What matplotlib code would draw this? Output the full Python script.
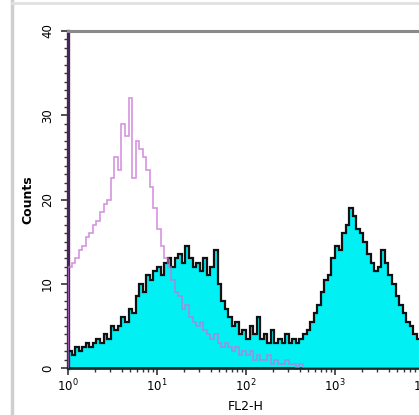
import numpy as np
import matplotlib.pyplot as plt
from matplotlib.lines import Line2D
from matplotlib.ticker import LogLocator, MultipleLocator

# FL2-H histogram, 100 channels over 4 decades (1 .. 10^4)
channel_edges = 10 ** np.linspace(0, 4, 101)

# stained sample (cyan filled)
stained_counts = [
    2, 1.5, 2.5, 2, 2.5, 3, 2.5, 3, 3.5, 3,
    4, 3.5, 5, 4.5, 5, 6, 5.5, 7, 6.5, 8.5,
    10, 9, 11, 10.5, 11.5, 12, 11, 12.5, 13, 12,
    13, 13.5, 12.5, 14.5, 13, 12, 12.5, 11.5, 13, 11,
    12, 14, 10, 8, 7, 6, 5, 5.5, 4, 4.5,
    3.5, 5, 4, 6, 3.5, 4, 3, 4.5, 3, 3.5,
    3, 4, 3, 3.5, 3, 3.5, 4, 4.5, 5.5, 6.5,
    7.5, 9, 10.5, 11, 13, 14.5, 14, 16, 17, 19,
    18, 16.5, 16, 15, 13.5, 12.5, 11.5, 12, 14, 12.5,
    11, 10, 8.5, 7.5, 6.5, 5.5, 5, 4, 3.5, 3,
]

# isotype control (purple line)
control_counts = [
    12, 12.5, 13, 14, 14.5, 15.5, 16, 17, 17.5, 18.5,
    19.5, 20, 22.5, 25, 23.5, 29, 27.5, 32, 22.5, 27,
    26, 25, 23.5, 21.5, 19, 16.5, 14.5, 13, 12, 10.5,
    9, 8.5, 7, 7.5, 6, 5.5, 5, 5.5, 4.5, 4,
    3.5, 4, 3, 2.5, 3, 2.5, 2, 2.5, 1.5, 2,
    1.5, 2, 1, 1.5, 1, 1, 1.5, 0.5, 1, 0.5,
    0.5, 1, 0.5, 0.5, 0, 0.5, 0, 0, 0, 0,
    0, 0, 0, 0, 0, 0, 0, 0, 0, 0,
    0, 0, 0, 0, 0, 0, 0, 0, 0, 0,
    0, 0, 0, 0, 0, 0, 0, 0, 0, 0,
]

fig = plt.figure(figsize=(4.19, 4.15), dpi=100)
ax = fig.add_axes([68 / 419, 47 / 415, 356 / 419, 337 / 415])

ax.stairs(stained_counts, channel_edges, fill=True, color="#00F0F4", zorder=2)
ax.stairs(stained_counts, channel_edges, color="#111111", linewidth=1.6, zorder=3)
ax.stairs(control_counts, channel_edges, color="#C872D6", linewidth=1.2,
          alpha=0.75, zorder=4)

ax.set_xscale("log")
ax.set_xlim(1, 1e4)
ax.set_ylim(0, 40)
ax.yaxis.set_major_locator(MultipleLocator(10))
ax.yaxis.set_minor_locator(MultipleLocator(1))
ax.xaxis.set_major_locator(LogLocator(base=10))
ax.xaxis.set_minor_locator(LogLocator(base=10, subs=np.arange(2, 10)))

ax.spines["right"].set_visible(False)
ax.spines["top"].set_color("#8a8a8a")
ax.spines["top"].set_linewidth(2.2)
ax.spines["left"].set_color("#4a2458")
ax.spines["left"].set_linewidth(2.4)
ax.spines["bottom"].set_color("#0a3030")
ax.spines["bottom"].set_linewidth(2)

ax.tick_params(axis="y", which="major", length=5, width=1.2, color="#333333",
               labelsize=8.5, labelrotation=90, pad=5)
ax.tick_params(axis="y", which="minor", length=3, width=1, color="#333333")
ax.tick_params(axis="x", which="major", length=5, width=1.2, color="#333333",
               labelsize=8.5, pad=2)
ax.tick_params(axis="x", which="minor", length=3, width=1, color="#333333")
for lab in ax.get_yticklabels():
    lab.set_verticalalignment("center")

ax.set_ylabel("Counts", fontsize=9, fontweight="bold", labelpad=5)
ax.set_xlabel("FL2-H", fontsize=9, labelpad=4)

# grey screenshot border
fig.add_artist(Line2D([12 / 419, 12 / 419], [0, 1], color="#cfcfcf", linewidth=2.5))
fig.add_artist(Line2D([12 / 419, 1], [1 - 3 / 415, 1 - 3 / 415], color="#e0e0e0",
                      linewidth=2))

fig.savefig("out.png", dpi=100)
